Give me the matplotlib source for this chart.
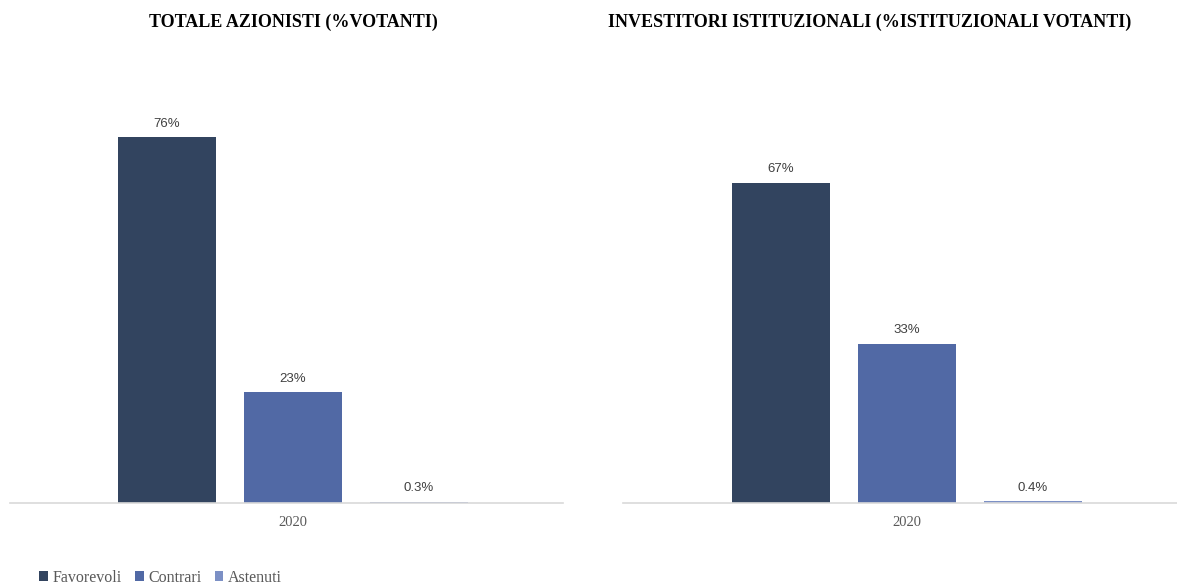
import matplotlib.pyplot as plt
from matplotlib.patches import Patch

categories = ["Favorevoli", "Contrari", "Astenuti"]
totale = [76, 23, 0.3]
istituzionali = [66.5, 33.1, 0.4]
totale_labels = ["76%", "23%", "0.3%"]
istituzionali_labels = ["67%", "33%", "0.4%"]
year = "2020"
colors = ["#32445F", "#5169A5", "#7C90C5"]

serif = "Liberation Serif"
fig = plt.figure(figsize=(11.77, 5.86), dpi=100)

def draw(ax, values, labels, xlim):
    pos = [-1, 0, 1]
    ax.bar(pos, values, width=0.78, color=colors)
    for p, v, l in zip(pos, values, labels):
        ax.text(p, v + 1.5, l, ha="center", va="bottom", fontsize=9.5,
                family="Liberation Sans", color="#404040")
    ax.set_xlim(*xlim)
    ax.set_ylim(0, 90)
    ax.set_xticks([0])
    ax.set_xticklabels([year], family=serif, fontsize=10.5, color="#595959")
    ax.tick_params(axis="x", length=0, pad=9)
    ax.set_yticks([])
    for s in ["top", "right", "left"]:
        ax.spines[s].set_visible(False)
    ax.spines["bottom"].set_color("#D9D9D9")
    ax.spines["bottom"].set_linewidth(1.2)

ax1 = fig.add_axes([10 / 1177, 0.1416, 553 / 1177, 0.74])
draw(ax1, totale, totale_labels, (-2.246, 2.143))
ax2 = fig.add_axes([623 / 1177, 0.1416, 554 / 1177, 0.74])
draw(ax2, istituzionali, istituzionali_labels, (-2.254, 2.143))

fig.text(293 / 1177, 1 - 22 / 586, "TOTALE AZIONISTI (%VOTANTI)", ha="center", va="center",
         family=serif, fontweight="bold", fontsize=13)
fig.text(870 / 1177, 1 - 22 / 586, "INVESTITORI ISTITUZIONALI (%ISTITUZIONALI VOTANTI)",
         ha="center", va="center", family=serif, fontweight="bold", fontsize=13)

handles = [Patch(facecolor=c) for c in colors]
leg = fig.legend(handles, categories, loc="center left", bbox_to_anchor=(33 / 1177, 1 - 578 / 586),
                 ncol=3, frameon=False, handlelength=0.55, handleheight=0.6, handletextpad=0.3,
                 columnspacing=0.8, borderaxespad=0, prop={"family": serif, "size": 11.5})
for t in leg.get_texts():
    t.set_color("#595959")

fig.savefig("out.png", dpi=100)
